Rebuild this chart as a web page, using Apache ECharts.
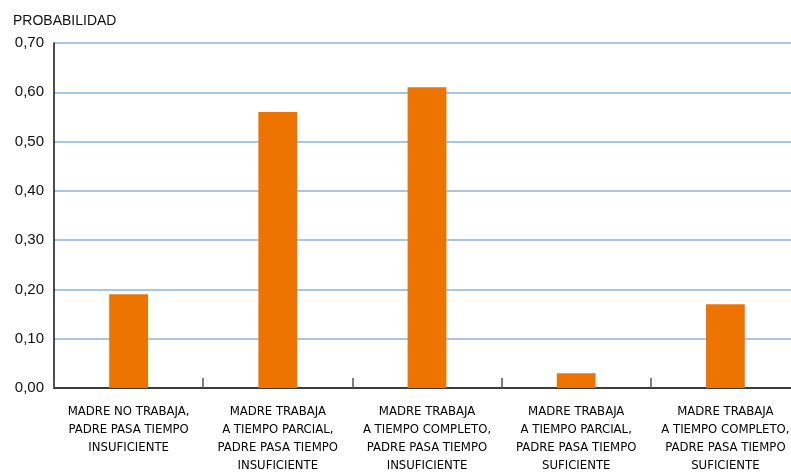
<!DOCTYPE html>
<html><head><meta charset="utf-8">
<script src="https://cdn.jsdelivr.net/npm/echarts@6/dist/echarts.min.js"></script>
<style>html,body{margin:0;padding:0;background:#fff;overflow:hidden;width:791px;height:475px}#c{width:800px;height:475px}</style>
</head><body><div id="c"></div>
<script>
const categories = [
  "MADRE NO TRABAJA,\nPADRE PASA TIEMPO\nINSUFICIENTE",
  "MADRE TRABAJA\nA TIEMPO PARCIAL,\nPADRE PASA TIEMPO\nINSUFICIENTE",
  "MADRE TRABAJA\nA TIEMPO COMPLETO,\nPADRE PASA TIEMPO\nINSUFICIENTE",
  "MADRE TRABAJA\nA TIEMPO PARCIAL,\nPADRE PASA TIEMPO\nSUFICIENTE",
  "MADRE TRABAJA\nA TIEMPO COMPLETO,\nPADRE PASA TIEMPO\nSUFICIENTE"
];
const probabilidad = [0.19, 0.56, 0.61, 0.03, 0.17];
const yTitle = "PROBABILIDAD";

const chart = echarts.init(document.getElementById('c'));
chart.setOption({
  animation: false,
  graphic: [{type:'text', left: 13, top: 14, style:{text: yTitle, font: '14px "Liberation Sans", Arial, sans-serif', fill:'#111'}}],
  grid: {left: 54, top: 43, bottom: 86, right: 0, containLabel: false},
  xAxis: {
    type: 'category', data: categories,
    axisLine: {lineStyle:{color:'#111', width:1.5}},
    axisTick: {show:true, inside:true, length:10, lineStyle:{color:'#555', width:1.5}},
    axisLabel: {interval:0, color:'#000', fontSize:13, lineHeight:18, margin:15,
      fontFamily:'"Liberation Sans Narrow", "DejaVu Sans Condensed", sans-serif'}
  },
  yAxis: {
    type:'value', min:0, max:0.7, interval:0.1,
    axisLine:{show:true, lineStyle:{color:'#111', width:1.5}},
    axisTick:{show:false},
    splitLine:{lineStyle:{color:'#a9c6e6', width:2}},
    axisLabel:{color:'#111', fontSize:15, margin:10, fontFamily:'"Liberation Sans", Arial, sans-serif',
      formatter: v => v.toFixed(2).replace('.', ',')}
  },
  series: [{type:'bar', data: probabilidad, barWidth:'26%', itemStyle:{color:'#ee7402'}}]
});
</script></body></html>
